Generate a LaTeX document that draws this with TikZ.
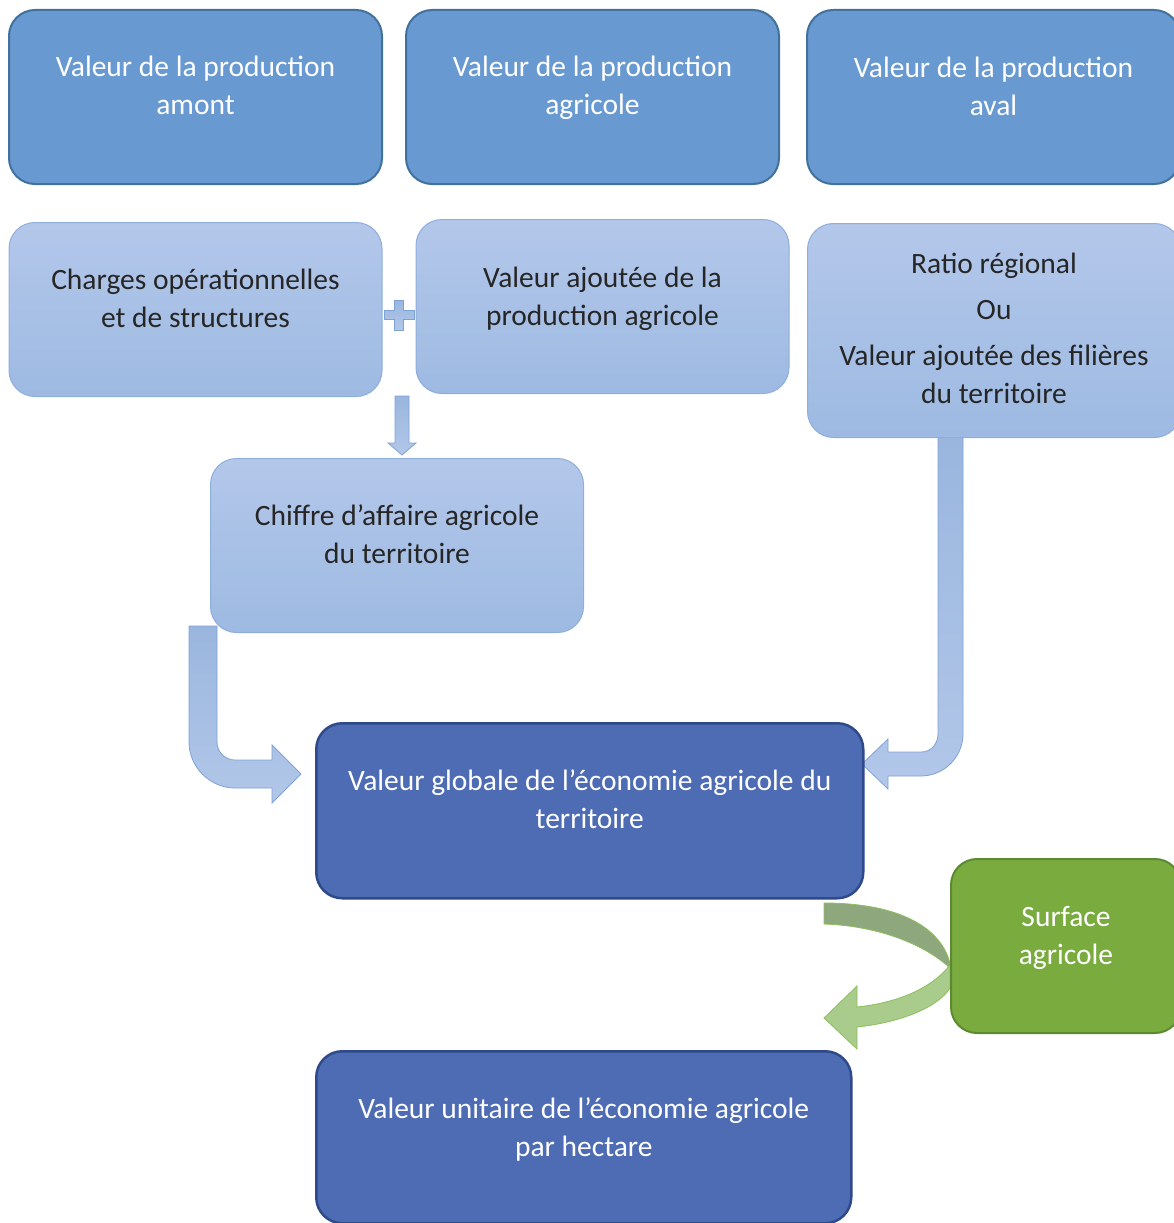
\documentclass[tikz,border=0pt]{standalone}
\usepackage{fontspec}
\setmainfont{Carlito}
\usetikzlibrary{positioning, calc}
\definecolor{midblue}{HTML}{6899D0}
\definecolor{midline}{HTML}{41719C}
\definecolor{paletop}{HTML}{B3C7EA}
\definecolor{palebot}{HTML}{9EBAE2}
\definecolor{paleline}{HTML}{8EAEDD}
\definecolor{deepblue}{HTML}{4E6CB3}
\definecolor{deepline}{HTML}{2E4A8B}
\definecolor{leaf}{HTML}{7AAB3F}
\definecolor{leafline}{HTML}{5B8A30}
\definecolor{arrtop}{HTML}{9AB6DE}
\definecolor{arrbot}{HTML}{B2C7E9}
\definecolor{arrline}{HTML}{7FA2D6}
\definecolor{bendback}{HTML}{8FA77D}
\definecolor{bendfront}{HTML}{A9CB8B}
\definecolor{bendline}{HTML}{8DBF5D}
\tikzset{
  card/.style={rounded corners=26pt, minimum width=373pt, minimum height=174pt, inner sep=0pt},
  topbox/.style={card, draw=midline, line width=2pt, fill=midblue},
  palebox/.style={card, draw=paleline, line width=1pt, top color=paletop, bottom color=palebot},
  deepbox/.style={card, draw=deepline, line width=2.5pt, fill=deepblue},
  greenbox/.style={card, draw=leafline, line width=2pt, fill=leaf, minimum width=230pt},
  txt/.style={align=center, font=\fontsize{29.5}{38}\selectfont, text=white},
  dtxt/.style={txt, text=black!85},
  fatarr/.style={draw=arrline, line width=0.8pt, top color=arrtop, bottom color=arrbot},
  bendarr/.style={draw=bendline, line width=0.8pt}
}
\begin{document}
\begin{tikzpicture}[x=1pt, y=-1pt]
\useasboundingbox (0,0) rectangle (1174,1223);
% block arrows first, boxes on top
\draw[fatarr] (395,396) -- (409,396) -- (409,443) -- (416,443) -- (402,455) -- (388,443) -- (395,443) -- cycle;
\draw[fatarr] (394.5,300) -- (403.5,300) -- (403.5,310.5) -- (414,310.5) -- (414,319.5) -- (403.5,319.5)
  -- (403.5,330) -- (394.5,330) -- (394.5,319.5) -- (384,319.5) -- (384,310.5) -- (394.5,310.5) -- cycle;
\draw[fatarr] (189,626) -- (217,626) -- (217,742) .. controls (217,752) and (225,760) .. (235,760)
  -- (272,760) -- (272,745) -- (301,774) -- (272,803) -- (272,788) -- (235,788)
  .. controls (210,788) and (189,767) .. (189,742) -- cycle;
\draw[fatarr] (938,437) -- (963,437) -- (963,734) .. controls (963,757) and (944,776) .. (921,776)
  -- (888,776) -- (888,789) -- (862,764) -- (888,739) -- (888,752) -- (921,752)
  .. controls (931,752) and (938,744) .. (938,734) -- cycle;
\draw[bendarr, fill=bendback] (824,903) .. controls (895,903) and (940,925) .. (950,963)
  -- (950,968) .. controls (925,945) and (880,926) .. (824,924) -- cycle;
\draw[bendarr, fill=bendfront] (950,965) .. controls (930,990) and (895,1003) .. (857,1007)
  -- (857,986) -- (824,1018) -- (857,1049) -- (857,1027)
  .. controls (905,1022) and (940,1005) .. (950,988) -- cycle;
% top row
\node[topbox, anchor=north west] (amont) at (8,9) {};
\node[topbox, right=22pt of amont] (agri) {};
\node[topbox, right=26pt of agri] (aval) {};
% second row
\node[palebox, below=37pt of amont] (charges) {};
\node[palebox, right=33pt of charges, yshift=3pt] (vaprod) {};
\node[palebox, minimum height=214pt, anchor=north west] (ratio) at (807,223) {};
\node[palebox, anchor=north west] (chiffre) at (210,458) {};
% bottom
\node[deepbox, minimum width=547pt, minimum height=175pt, anchor=north west] (globale) at (315,722) {};
\node[greenbox, anchor=north west] (surface) at (950,858) {};
\node[deepbox, minimum width=535pt, minimum height=172pt, anchor=north west] (unitaire) at (315,1050) {};
% texts
\node[txt] (t-amont) at ([yshift=12pt]amont.center) {Valeur de la production\\amont};
\node[txt] (t-agri) at ([yshift=9pt]agri.center) {Valeur de la production\\agricole};
\node[txt] (t-aval) at ([yshift=11pt]aval.center) {Valeur de la production\\aval};
\node[dtxt] (t-charges) at ([yshift=11pt]charges.center) {Charges opérationnelles\\et de structures};
\node[dtxt] (t-vaprod) at ([yshift=8pt]vaprod.center) {Valeur ajoutée de la\\production agricole};
\node[dtxt] (t-ratio) at ([yshift=2pt]ratio.center) {Ratio régional\\[8pt]Ou\\[8pt]Valeur ajoutée des filières\\du territoire};
\node[dtxt] (t-chiffre) at ([yshift=11pt]chiffre.center) {Chiffre d’affaire agricole\\du territoire};
\node[txt] (t-globale) at ([yshift=12pt]globale.center) {Valeur globale de l’économie agricole du\\territoire};
\node[txt] (t-surface) at ([yshift=8pt]surface.center) {Surface\\agricole};
\node[txt] (t-unitaire) at ([yshift=-79pt]unitaire.north) {Valeur unitaire de l’économie agricole\\par hectare};
\end{tikzpicture}
\end{document}
